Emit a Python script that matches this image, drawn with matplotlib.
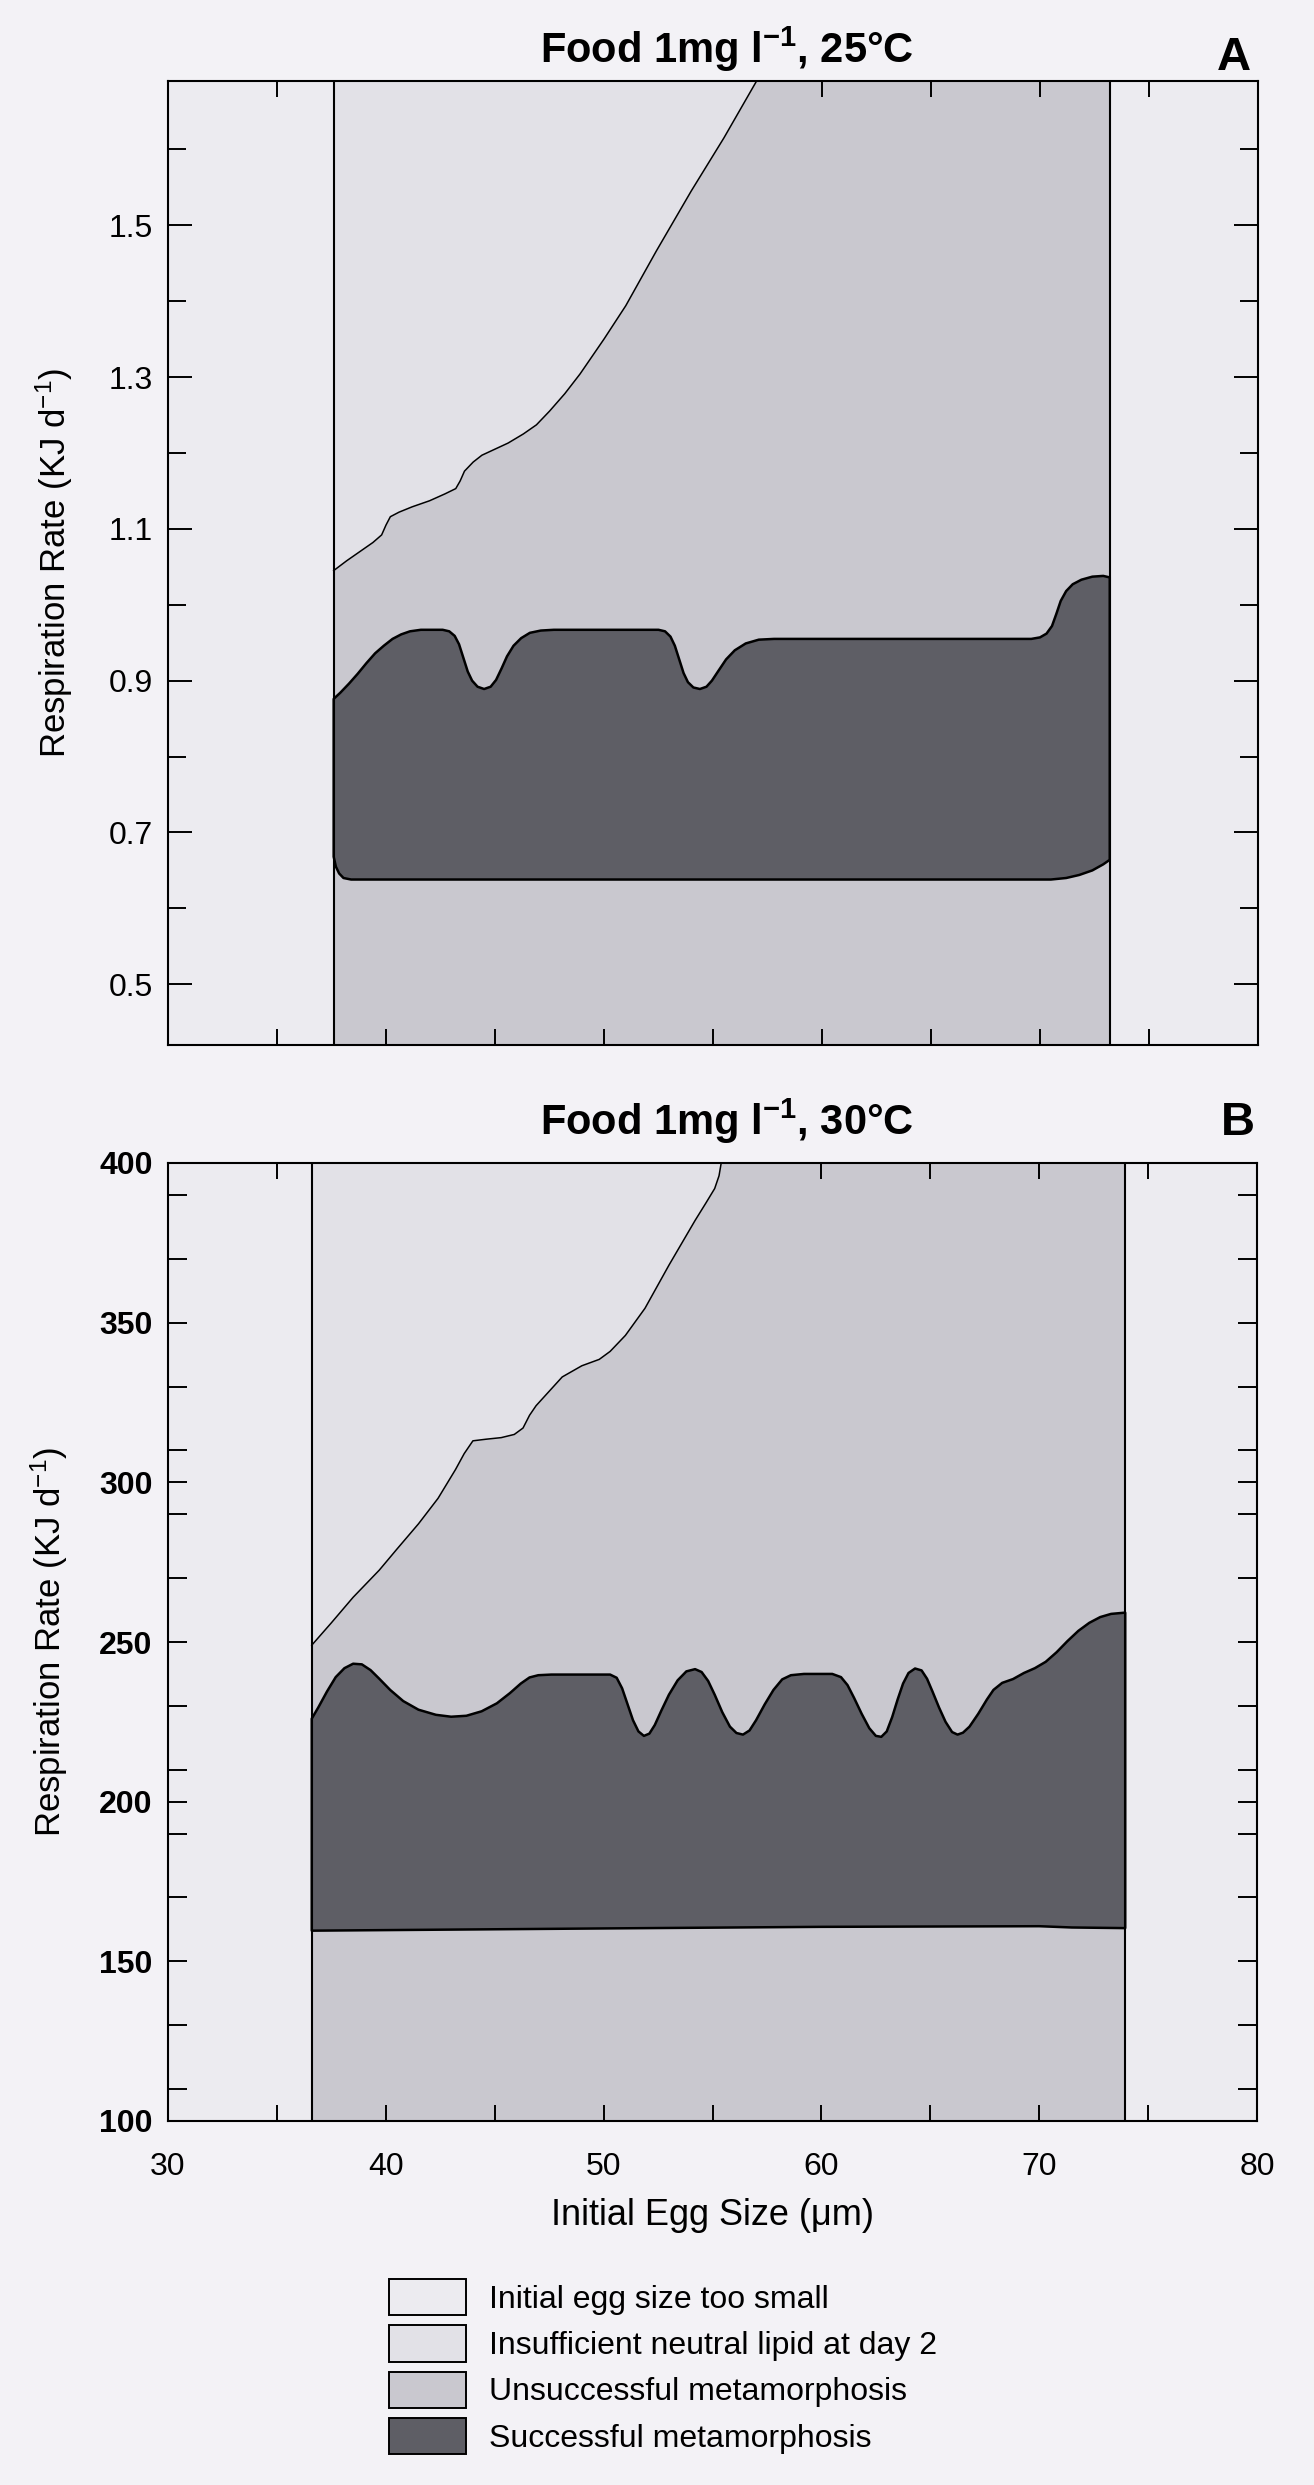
import numpy as np
import matplotlib

matplotlib.use("Agg")
import matplotlib.pyplot as plt
from matplotlib.patches import Patch
from matplotlib.ticker import FixedLocator

plt.rcParams["font.family"] = ["Liberation Sans", "DejaVu Sans"]
plt.rcParams["mathtext.fontset"] = "custom"
plt.rcParams["mathtext.rm"] = "Liberation Sans"
plt.rcParams["mathtext.bf"] = "Liberation Sans:bold"
plt.rcParams["mathtext.it"] = "Liberation Sans:italic"

PAGE = "#f3f2f6"
C_SMALL = "#ecebf0"
C_LIPID = "#e2e1e7"
C_FAIL = "#c9c8cf"
C_OK = "#5e5e65"

W, H = 1314, 2485

# -- data ----------------------------------------------------------------------

legend_labels = [
    "Initial egg size too small",
    "Insufficient neutral lipid at day 2",
    "Unsuccessful metamorphosis",
    "Successful metamorphosis",
]

# panel A: 25 C
a_range = [37.6, 73.2]
a_ylim = [0.42, 1.69]
a_lipid_x = [37.6, 38.2, 38.8, 39.4, 39.8, 40.0, 40.2, 40.6, 41.2, 42.0, 42.7, 43.2,
             43.4, 43.6, 44.0, 44.4, 45.0, 45.6, 46.3, 46.9, 47.5, 48.2, 48.9, 50.0,
             51.0, 52.4, 54.0, 55.5, 57.0]
a_lipid_y = [1.045, 1.058, 1.070, 1.082, 1.092, 1.105, 1.116, 1.122, 1.129, 1.137, 1.146,
             1.153, 1.163, 1.176, 1.188, 1.197, 1.205, 1.213, 1.225, 1.237, 1.255, 1.278,
             1.304, 1.350, 1.394, 1.466, 1.545, 1.615, 1.690]
a_ok_top_x = [37.6, 37.9, 38.3, 38.7, 39.1, 39.5, 39.9, 40.3, 40.7, 41.1, 41.6, 42.6,
              42.9, 43.15, 43.35, 43.55, 43.75, 43.95, 44.2, 44.5, 44.8, 45.05, 45.3,
              45.55, 45.85, 46.2, 46.6, 47.1, 47.7, 52.5, 52.8, 53.05, 53.25, 53.45,
              53.65, 53.85, 54.1, 54.4, 54.7, 54.95, 55.25, 55.6, 56.0, 56.5, 57.1, 57.8,
              69.6, 70.0, 70.3, 70.55, 70.75, 70.95, 71.2, 71.5, 71.9, 72.4, 72.9, 73.2]
a_ok_top_y = [0.876, 0.884, 0.896, 0.909, 0.923, 0.936, 0.946, 0.955, 0.961, 0.965,
              0.967, 0.967, 0.965, 0.959, 0.948, 0.930, 0.912, 0.900, 0.892, 0.889,
              0.892, 0.901, 0.916, 0.932, 0.946, 0.956, 0.963, 0.966, 0.967, 0.967,
              0.965, 0.958, 0.946, 0.928, 0.910, 0.898, 0.891, 0.889, 0.892, 0.900,
              0.913, 0.928, 0.940, 0.949, 0.954, 0.955, 0.955, 0.957, 0.962, 0.972,
              0.988, 1.005, 1.018, 1.027, 1.033, 1.037, 1.038, 1.036]
a_ok_bot_x = [37.6, 37.7, 37.85, 38.05, 38.4, 70.5, 71.2, 71.8, 72.4, 72.9, 73.2]
a_ok_bot_y = [0.668, 0.655, 0.646, 0.640, 0.638, 0.638, 0.640, 0.644, 0.650, 0.658, 0.664]

# panel B: 30 C
b_range = [36.6, 73.95]
b_ylim = [100, 400]
b_lipid_x = [36.6, 37.5, 38.5, 39.7, 40.5, 41.5, 42.4, 43.2, 43.6, 44.0, 44.6, 45.3,
             45.9, 46.3, 46.6, 46.9, 47.5, 48.1, 49.0, 49.8, 50.3, 51.0, 51.9, 53.0,
             54.2, 54.7, 55.1, 55.3, 55.4]
b_lipid_y = [249, 256, 264, 272.5, 279, 287, 295, 304, 309, 313, 313.5, 314, 315, 317,
             321, 324, 328.5, 333, 336.5, 338.5, 341, 346, 354.5, 368, 382, 387.5, 392,
             396, 400]
b_ok_top_x = [36.6, 36.9, 37.3, 37.7, 38.1, 38.5, 38.9, 39.3, 39.7, 40.2, 40.8, 41.5,
              42.3, 43.0, 43.7, 44.4, 45.1, 45.7, 46.2, 46.6, 47.0, 47.6, 50.3, 50.6,
              50.85, 51.1, 51.35, 51.6, 51.85, 52.1, 52.35, 52.65, 53.0, 53.4, 53.8,
              54.2, 54.5, 54.8, 55.1, 55.45, 55.8, 56.1, 56.4, 56.7, 57.0, 57.4, 57.8,
              58.2, 58.6, 59.2, 60.5, 60.9, 61.2, 61.5, 61.85, 62.2, 62.5, 62.75, 63.0,
              63.25, 63.5, 63.75, 64.0, 64.3, 64.6, 64.85, 65.1, 65.4, 65.7, 66.0, 66.25,
              66.5, 66.8, 67.2, 67.6, 67.9, 68.3, 68.8, 69.3, 69.8, 70.3, 70.8, 71.3,
              71.8, 72.3, 72.8, 73.3, 73.95]
b_ok_top_y = [226, 229.5, 234.5, 239, 241.8, 243.2, 243.0, 241.2, 238.5, 235, 231.5,
              228.8, 227.2, 226.6, 226.9, 228.3, 230.8, 234, 237, 238.9, 239.6, 239.8,
              239.8, 238.8, 235.5, 230.5, 225.5, 222, 220.6, 221.3, 224, 228.5, 233.5,
              238, 240.8, 241.5, 240.6, 237.8, 233.5, 228, 223.5, 221.5, 221.0, 222.3,
              225.5, 230.5, 235, 238.3, 239.6, 240, 240, 239, 236.5, 232.5, 227.5, 223,
              220.6, 220.3, 222, 226.5, 232, 237, 240.3, 241.7, 241.1, 238.5, 234.5,
              229.5, 225, 221.8, 221, 221.6, 223.5, 227.5, 232, 235, 237.2, 238.4, 240.3,
              241.8, 243.8, 246.8, 250.3, 253.5, 256, 257.8, 258.8, 259.2]
b_ok_bot_x = [36.6, 50.0, 60.0, 70.0, 71.5, 73.95]
b_ok_bot_y = [159.6, 160.3, 160.8, 161.0, 160.6, 160.4]

x_major = [30, 40, 50, 60, 70, 80]
x_minor = [35, 45, 55, 65, 75]
a_y_major = [0.5, 0.7, 0.9, 1.1, 1.3, 1.5]
a_y_minor = [0.6, 0.8, 1.0, 1.2, 1.4, 1.6]
b_y_major = [100, 150, 200, 250, 300, 350, 400]
b_y_minor = [110, 130, 170, 190, 210, 230, 270, 290, 310, 330, 370, 390]


def draw_panel(ax, xr, ylim, lip_x, lip_y, top_x, top_y, bot_x, bot_y):
    ax.set_facecolor(C_SMALL)
    ax.axvspan(xr[0], xr[1], color=C_FAIL, lw=0, zorder=1)
    ax.fill_between(lip_x, lip_y, ylim[1], color=C_LIPID, lw=0, zorder=2)
    ax.plot(lip_x, lip_y, color="k", lw=1.1, zorder=3, solid_joinstyle="round")
    ax.fill(np.r_[top_x, bot_x[::-1]], np.r_[top_y, bot_y[::-1]],
            facecolor=C_OK, edgecolor="k", lw=1.8, zorder=3, joinstyle="round")
    for x in xr:
        ax.axvline(x, color="k", lw=1.5, zorder=4)
    ax.set_xlim(30, 80)
    ax.set_ylim(*ylim)
    for s in ax.spines.values():
        s.set_linewidth(1.5)
        s.set_zorder(5)
    ax.xaxis.set_major_locator(FixedLocator(x_major))
    ax.xaxis.set_minor_locator(FixedLocator(x_minor))
    ax.tick_params(axis="x", which="both", direction="in", top=True, bottom=True,
                   length=11.5, width=1.4, labelsize=23, pad=22)
    ax.tick_params(axis="y", which="both", direction="in", left=True, right=True,
                   width=1.4, labelsize=23, pad=11)


fig = plt.figure(figsize=(W / 100, H / 100), dpi=100, facecolor=PAGE)

axA = fig.add_axes([168 / W, 1 - 1045 / H, 1090 / W, 964 / H])
draw_panel(axA, a_range, a_ylim, a_lipid_x, a_lipid_y,
           np.array(a_ok_top_x), np.array(a_ok_top_y),
           np.array(a_ok_bot_x), np.array(a_ok_bot_y))
axA.yaxis.set_major_locator(FixedLocator(a_y_major))
axA.yaxis.set_minor_locator(FixedLocator(a_y_minor))
axA.tick_params(axis="y", which="major", length=17)
axA.tick_params(axis="y", which="minor", length=13)
axA.tick_params(axis="x", labelbottom=False)
axA.set_ylabel(r"Respiration Rate (KJ d$^{-1}$)", fontsize=25)
axA.yaxis.set_label_coords(-0.085, 0.5)
axA.text(0.513, 1.0187, r"Food 1mg l$^{\mathbf{-1}}$, 25°C", transform=axA.transAxes,
         ha="center", va="baseline", fontsize=30, fontweight="bold")
axA.text(0.978, 1.0114, "A", transform=axA.transAxes, ha="center", va="baseline",
         fontsize=34, fontweight="bold")

axB = fig.add_axes([168 / W, 1 - 2121 / H, 1089 / W, 958 / H])
draw_panel(axB, b_range, b_ylim, b_lipid_x, b_lipid_y,
           np.array(b_ok_top_x), np.array(b_ok_top_y),
           np.array(b_ok_bot_x), np.array(b_ok_bot_y))
axB.yaxis.set_major_locator(FixedLocator(b_y_major))
axB.yaxis.set_minor_locator(FixedLocator(b_y_minor))
axB.tick_params(axis="y", which="both", length=14)
for lab in axB.get_yticklabels():
    lab.set_fontweight("bold")
axB.set_ylabel(r"Respiration Rate (KJ d$^{-1}$)", fontsize=25)
axB.yaxis.set_label_coords(-0.090, 0.5)
axB.set_xlabel(r"Initial Egg Size (μm)", fontsize=26)
axB.xaxis.set_label_coords(0.5, -0.080)
axB.text(0.513, 1.0292, r"Food 1mg l$^{\mathbf{-1}}$, 30°C", transform=axB.transAxes,
         ha="center", va="baseline", fontsize=30, fontweight="bold")
axB.text(0.9826, 1.0292, "B", transform=axB.transAxes, ha="center", va="baseline",
         fontsize=34, fontweight="bold")

handles = [Patch(facecolor=c, edgecolor="k", lw=1.4, label=l)
           for c, l in zip([C_SMALL, C_LIPID, C_FAIL, C_OK], legend_labels)]
fig.legend(handles=handles, loc="upper left", bbox_to_anchor=(389 / W, 1 - 2279 / H),
           frameon=False, fontsize=23, handlelength=2.4, handleheight=1.375,
           labelspacing=0.31, handletextpad=0.72, borderpad=0, borderaxespad=0)

fig.savefig("out.png", dpi=100, facecolor=PAGE)
